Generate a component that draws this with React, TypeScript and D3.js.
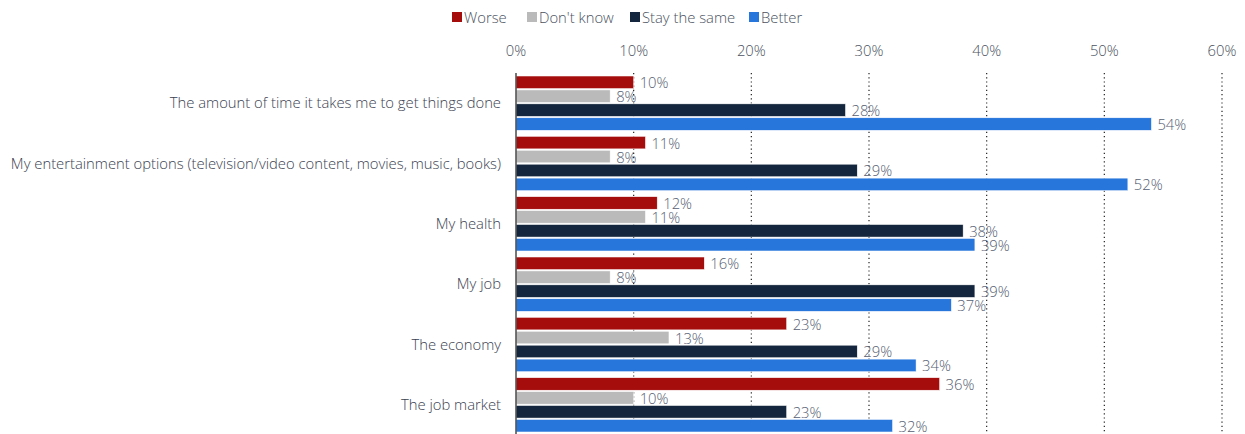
import React from "react";
import * as d3 from "d3";

const categories = [
  "The amount of time it takes me to get things done",
  "My entertainment options (television/video content, movies, music, books)",
  "My health",
  "My job",
  "The economy",
  "The job market",
];
const seriesNames = ["Worse", "Don't know", "Stay the same", "Better"];
const seriesColors = ["#a50d0d", "#bababa", "#13263d", "#2776dc"];
const worse = [10, 11, 12, 16, 23, 36];
const dontKnow = [8, 8, 11, 8, 13, 10];
const stayTheSame = [28, 29, 38, 39, 29, 23];
const better = [54, 52, 39, 37, 34, 32];
const seriesValues = [worse, dontKnow, stayTheSame, better];
const xTicks = [0, 10, 20, 30, 40, 50, 60];

const W = 1245;
const H = 434;
const left = 516;
const right = 1222;
const top = 73;
const bottom = 435;
const font = "'Open Sans', sans-serif";
const fs = 14.8;

export default function App() {
  const x = d3.scaleLinear().domain([0, 60]).range([left, right]);
  const y = d3.scaleBand<string>().domain(categories).range([top, bottom]).paddingInner(0.1).paddingOuter(0.05);
  const inner = d3.scaleBand<number>().domain([0, 1, 2, 3]).range([0, y.bandwidth()]).paddingInner(0.1);

  const legendX = [452, 527, 630, 749];

  return (
    <svg width={W} height={H} style={{ position: "absolute", left: 0, top: 0 }} fontFamily={font}>
      <rect width={W} height={H} fill="#fff" />
      {seriesNames.map((n, i) => (
        <g key={n}>
          <rect x={legendX[i]} y={12} width={10} height={10} fill={seriesColors[i]} />
          <text x={legendX[i] + 12} y={22.5} fontSize={fs} fill="#4a5260" fontWeight={300}>
            {n}
          </text>
        </g>
      ))}
      {xTicks.map((t) => (
        <g key={t}>
          <text x={x(t)} y={56} textAnchor="middle" fontSize={fs} fill="#4a5260" fontWeight={300}>
            {t}%
          </text>
          {t > 0 && (
            <line x1={x(t)} x2={x(t)} y1={top} y2={H} stroke="#222" strokeWidth={1.2} strokeDasharray="1.2 3" />
          )}
        </g>
      ))}
      {categories.map((c, ci) => (
        <g key={c}>
          <text
            x={501}
            y={(y(c) as number) + y.bandwidth() / 2 + 5}
            textAnchor="end"
            fontSize={fs}
            fill="#3a4150"
            fontWeight={300}
          >
            {c}
          </text>
          {seriesValues.map((vals, si) => {
            const by = (y(c) as number) + (inner(si) as number);
            const bh = inner.bandwidth();
            return (
              <g key={si}>
                <rect
                  x={x(0)}
                  y={by}
                  width={x(vals[ci]) - x(0)}
                  height={bh}
                  fill={seriesColors[si]}
                  stroke="#fff"
                  strokeWidth={0.5}
                />
                <text
                  x={x(vals[ci]) + 6}
                  y={by + bh / 2 + 6}
                  fontSize={fs}
                  fill="#566072"
                  fontWeight={300}
                >
                  {vals[ci]}%
                </text>
              </g>
            );
          })}
        </g>
      ))}
      <line x1={left} x2={left} y1={top} y2={H} stroke="#4a4a4a" strokeWidth={1.5} />
    </svg>
  );
}
